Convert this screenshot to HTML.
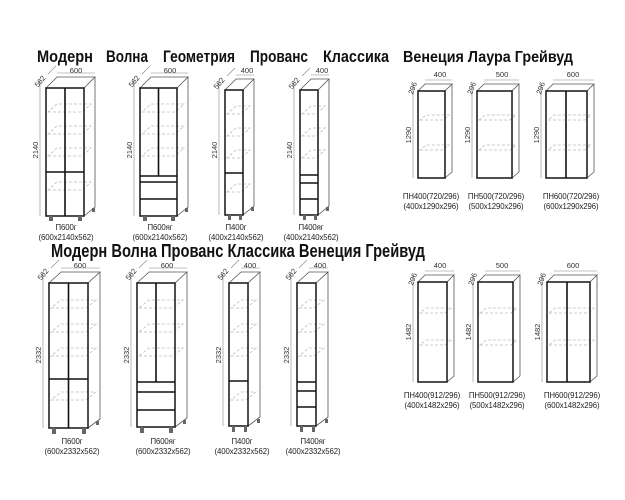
<!DOCTYPE html>
<html><head><meta charset="utf-8"><style>
html,body{margin:0;padding:0;background:#fff;}
svg{display:block;font-family:"Liberation Sans",sans-serif;}
.t{font-weight:bold;fill:#111;}
.f{fill:#fff;stroke:#222;stroke-width:1.6;}
.o{fill:none;stroke:#555;stroke-width:0.8;}
.d{fill:none;stroke:#111;stroke-width:1.6;}
.s{fill:none;stroke:#bbb;stroke-width:0.8;stroke-dasharray:3 2;}
.m{fill:none;stroke:#888;stroke-width:0.6;}
.l{font-size:7.8px;fill:#222;text-anchor:middle;letter-spacing:-0.1px;}
.n{font-size:7.5px;fill:#333;text-anchor:middle;}
.g{fill:#666;}
</style></head><body>
<svg width="625" height="500" viewBox="0 0 625 500" xmlns="http://www.w3.org/2000/svg">
<g class="t" font-size="17">
<text x="37" y="62" textLength="56" lengthAdjust="spacingAndGlyphs">Модерн</text>
<text x="106" y="62" textLength="42" lengthAdjust="spacingAndGlyphs">Волна</text>
<text x="163" y="62" textLength="72" lengthAdjust="spacingAndGlyphs">Геометрия</text>
<text x="250" y="62" textLength="58" lengthAdjust="spacingAndGlyphs">Прованс</text>
<text x="323" y="62" textLength="66" lengthAdjust="spacingAndGlyphs">Классика</text>
</g>
<text class="t" x="403" y="62" font-size="16" textLength="170" lengthAdjust="spacingAndGlyphs">Венеция Лаура Грейвуд</text>
<text class="t" x="51" y="257" font-size="18" textLength="374" lengthAdjust="spacingAndGlyphs">Модерн Волна Прованс Классика Венеция Грейвуд</text>

<g>
<path class="o" d="M46 88 l11 -11 h38 l-11 11 z M84 216 l11 -9 V77"/>
<path class="m" d="M40 78 V216 M57 73 h38 M48 74 l8 -8"/>
<path class="s" d="M48 112 h34 l9 -8 h-34z M48 134 h34 l9 -8 h-34z M48 156 h34 l9 -8 h-34z M48 190 h34 l9 -8 h-34z"/>
<rect class="f" x="46" y="88" width="38" height="128" style="fill:none"/>
<path class="d" d="M65 88 V216 M46 172 H84"/>
<rect class="g" x="49" y="216" width="4" height="5"/><rect class="g" x="78" y="216" width="4" height="5"/><rect class="g" x="92" y="208" width="3" height="4"/>
<text class="n" x="76" y="73">600</text>
<text class="n" transform="translate(38,150) rotate(-90)">2140</text>
<text class="n" transform="translate(42,83) rotate(-50)">562</text>
<text class="l" x="66" y="230">П600г</text><text class="l" x="66" y="240">(600x2140x562)</text>
</g>
<g>
<path class="o" d="M140 88 l11 -11 h37 l-11 11 z M177 216 l11 -9 V77"/>
<path class="m" d="M134 78 V216 M151 73 h37 M142 74 l8 -8"/>
<path class="s" d="M142 112 h33 l9 -8 h-33z M142 134 h33 l9 -8 h-33z M142 156 h33 l9 -8 h-33z"/>
<rect class="f" x="140" y="88" width="37" height="128" style="fill:none"/>
<path class="d" d="M158.5 88 V176 M140 176 H177 M140 182 H177 M140 199 H177"/>
<rect class="g" x="143" y="216" width="4" height="5"/><rect class="g" x="171" y="216" width="4" height="5"/><rect class="g" x="185" y="208" width="3" height="4"/>
<text class="n" x="170" y="73">600</text>
<text class="n" transform="translate(132,150) rotate(-90)">2140</text>
<text class="n" transform="translate(136,83) rotate(-50)">562</text>
<text class="l" x="160" y="230">П600яг</text><text class="l" x="160" y="240">(600x2140x562)</text>
</g>
<g>
<path class="o" d="M225 90 l11 -11 h18 l-11 11 z M243 215 l11 -9 V79"/>
<path class="m" d="M219 80 V215 M236 75 h18 M227 76 l8 -8"/>
<path class="s" d="M227 114 h14 l9 -8 h-14z M227 136 h14 l9 -8 h-14z M227 158 h14 l9 -8 h-14z M227 192 h14 l9 -8 h-14z"/>
<rect class="f" x="225" y="90" width="18" height="125" style="fill:none"/>
<path class="d" d="M225 173 H243"/>
<rect class="g" x="228" y="215" width="3" height="5"/><rect class="g" x="239" y="215" width="3" height="5"/><rect class="g" x="251" y="207" width="3" height="4"/>
<text class="n" x="247" y="73">400</text>
<text class="n" transform="translate(217,150) rotate(-90)">2140</text>
<text class="n" transform="translate(221,85) rotate(-50)">562</text>
<text class="l" x="236" y="230">П400г</text><text class="l" x="236" y="240">(400x2140x562)</text>
</g>
<g>
<path class="o" d="M300 90 l11 -11 h18 l-11 11 z M318 215 l11 -9 V79"/>
<path class="m" d="M294 80 V215 M311 75 h18 M302 76 l8 -8"/>
<path class="s" d="M302 114 h14 l9 -8 h-14z M302 136 h14 l9 -8 h-14z M302 158 h14 l9 -8 h-14z"/>
<rect class="f" x="300" y="90" width="18" height="125" style="fill:none"/>
<path class="d" d="M300 175 H318 M300 183 H318 M300 199 H318"/>
<rect class="g" x="303" y="215" width="3" height="5"/><rect class="g" x="314" y="215" width="3" height="5"/><rect class="g" x="326" y="207" width="3" height="4"/>
<text class="n" x="322" y="73">400</text>
<text class="n" transform="translate(292,150) rotate(-90)">2140</text>
<text class="n" transform="translate(296,85) rotate(-50)">562</text>
<text class="l" x="311" y="230">П400яг</text><text class="l" x="311" y="240">(400x2140x562)</text>
</g>

<g>
<path class="o" d="M418 91 l7 -7 h27 l-7 7 z M445 178 l7 -6 V84"/>
<path class="m" d="M413 85 V178 M425 80 h27"/>
<path class="s" d="M420 120 h23 l6 -5 h-23z M420 150 h23 l6 -5 h-23z"/>
<rect class="f" x="418" y="91" width="27" height="87" style="fill:none"/>
<text class="n" x="440" y="77">400</text>
<text class="n" transform="translate(411,135) rotate(-90)">1290</text>
<text class="n" transform="translate(415,89) rotate(-70)">296</text>
<text class="l" x="431" y="199">ПН400(720/296)</text><text class="l" x="431" y="209">(400x1290x296)</text>
</g>
<g>
<path class="o" d="M477 91 l7 -7 h35 l-7 7 z M512 178 l7 -6 V84"/>
<path class="m" d="M472 85 V178 M484 80 h35"/>
<path class="s" d="M479 120 h31 l6 -5 h-31z M479 150 h31 l6 -5 h-31z"/>
<rect class="f" x="477" y="91" width="35" height="87" style="fill:none"/>
<text class="n" x="502" y="77">500</text>
<text class="n" transform="translate(470,135) rotate(-90)">1290</text>
<text class="n" transform="translate(474,89) rotate(-70)">296</text>
<text class="l" x="496" y="199">ПН500(720/296)</text><text class="l" x="496" y="209">(500x1290x296)</text>
</g>
<g>
<path class="o" d="M546 91 l7 -7 h41 l-7 7 z M587 178 l7 -6 V84"/>
<path class="m" d="M541 85 V178 M553 80 h41"/>
<path class="s" d="M548 120 h37 l6 -5 h-37z M548 150 h37 l6 -5 h-37z"/>
<rect class="f" x="546" y="91" width="41" height="87" style="fill:none"/>
<path class="d" d="M566 91 V178"/>
<text class="n" x="573" y="77">600</text>
<text class="n" transform="translate(539,135) rotate(-90)">1290</text>
<text class="n" transform="translate(543,89) rotate(-70)">296</text>
<text class="l" x="571" y="199">ПН600(720/296)</text><text class="l" x="571" y="209">(600x1290x296)</text>
</g>

<g>
<path class="o" d="M49 283 l12 -11 h39 l-12 11 z M88 428 l12 -9 V272"/>
<path class="m" d="M43 272 V428 M61 268 h39 M51 268 l8 -8"/>
<path class="s" d="M51 308 h35 l10 -8 h-35z M51 332 h35 l10 -8 h-35z M51 356 h35 l10 -8 h-35z M51 400 h35 l10 -8 h-35z"/>
<rect class="f" x="49" y="283" width="39" height="145" style="fill:none"/>
<path class="d" d="M68.5 283 V428 M49 379 H88"/>
<rect class="g" x="52" y="428" width="4" height="6"/><rect class="g" x="82" y="428" width="4" height="6"/><rect class="g" x="96" y="421" width="3" height="4"/>
<text class="n" x="80" y="268">600</text>
<text class="n" transform="translate(41,355) rotate(-90)">2332</text>
<text class="n" transform="translate(45,276) rotate(-50)">562</text>
<text class="l" x="72" y="444">П600г</text><text class="l" x="72" y="454">(600x2332x562)</text>
</g>
<g>
<path class="o" d="M137 283 l12 -11 h38 l-12 11 z M175 427 l12 -9 V272"/>
<path class="m" d="M131 272 V427 M149 268 h38 M139 268 l8 -8"/>
<path class="s" d="M139 308 h34 l10 -8 h-34z M139 332 h34 l10 -8 h-34z M139 356 h34 l10 -8 h-34z"/>
<rect class="f" x="137" y="283" width="38" height="144" style="fill:none"/>
<path class="d" d="M156 283 V382 M137 382 H175 M137 392 H175 M137 410 H175"/>
<rect class="g" x="140" y="427" width="4" height="6"/><rect class="g" x="169" y="427" width="4" height="6"/><rect class="g" x="183" y="420" width="3" height="4"/>
<text class="n" x="167" y="268">600</text>
<text class="n" transform="translate(129,355) rotate(-90)">2332</text>
<text class="n" transform="translate(133,276) rotate(-50)">562</text>
<text class="l" x="163" y="444">П600яг</text><text class="l" x="163" y="454">(600x2332x562)</text>
</g>
<g>
<path class="o" d="M229 283 l12 -11 h19 l-12 11 z M248 426 l12 -9 V272"/>
<path class="m" d="M223 272 V426 M241 268 h19 M231 268 l8 -8"/>
<path class="s" d="M231 308 h15 l10 -8 h-15z M231 332 h15 l10 -8 h-15z M231 356 h15 l10 -8 h-15z M231 400 h15 l10 -8 h-15z"/>
<rect class="f" x="229" y="283" width="19" height="143" style="fill:none"/>
<path class="d" d="M229 381 H248"/>
<rect class="g" x="232" y="426" width="3" height="6"/><rect class="g" x="244" y="426" width="3" height="6"/><rect class="g" x="257" y="419" width="3" height="4"/>
<text class="n" x="250" y="268">400</text>
<text class="n" transform="translate(221,355) rotate(-90)">2332</text>
<text class="n" transform="translate(225,276) rotate(-50)">562</text>
<text class="l" x="242" y="444">П400г</text><text class="l" x="242" y="454">(400x2332x562)</text>
</g>
<g>
<path class="o" d="M297 283 l12 -11 h19 l-12 11 z M316 426 l12 -9 V272"/>
<path class="m" d="M291 272 V426 M309 268 h19 M299 268 l8 -8"/>
<path class="s" d="M299 308 h15 l10 -8 h-15z M299 332 h15 l10 -8 h-15z M299 356 h15 l10 -8 h-15z"/>
<rect class="f" x="297" y="283" width="19" height="143" style="fill:none"/>
<path class="d" d="M297 382 H316 M297 391 H316 M297 407 H316"/>
<rect class="g" x="300" y="426" width="3" height="6"/><rect class="g" x="312" y="426" width="3" height="6"/><rect class="g" x="325" y="419" width="3" height="4"/>
<text class="n" x="320" y="268">400</text>
<text class="n" transform="translate(289,355) rotate(-90)">2332</text>
<text class="n" transform="translate(293,276) rotate(-50)">562</text>
<text class="l" x="313" y="444">П400яг</text><text class="l" x="313" y="454">(400x2332x562)</text>
</g>

<g>
<path class="o" d="M418 282 l7 -7 h29 l-7 7 z M447 382 l7 -6 V275"/>
<path class="m" d="M413 276 V382 M425 271 h29"/>
<path class="s" d="M420 313 h25 l6 -5 h-25z M420 345 h25 l6 -5 h-25z"/>
<rect class="f" x="418" y="282" width="29" height="100" style="fill:none"/>
<text class="n" x="440" y="268">400</text>
<text class="n" transform="translate(411,332) rotate(-90)">1482</text>
<text class="n" transform="translate(415,280) rotate(-70)">296</text>
<text class="l" x="432" y="398">ПН400(912/296)</text><text class="l" x="432" y="408">(400x1482x296)</text>
</g>
<g>
<path class="o" d="M478 282 l7 -7 h35 l-7 7 z M513 382 l7 -6 V275"/>
<path class="m" d="M473 276 V382 M485 271 h35"/>
<path class="s" d="M480 313 h31 l6 -5 h-31z M480 345 h31 l6 -5 h-31z"/>
<rect class="f" x="478" y="282" width="35" height="100" style="fill:none"/>
<text class="n" x="502" y="268">500</text>
<text class="n" transform="translate(471,332) rotate(-90)">1482</text>
<text class="n" transform="translate(475,280) rotate(-70)">296</text>
<text class="l" x="497" y="398">ПН500(912/296)</text><text class="l" x="497" y="408">(500x1482x296)</text>
</g>
<g>
<path class="o" d="M547 282 l7 -7 h43 l-7 7 z M590 382 l7 -6 V275"/>
<path class="m" d="M542 276 V382 M554 271 h43"/>
<path class="s" d="M549 313 h39 l6 -5 h-39z M549 345 h39 l6 -5 h-39z"/>
<rect class="f" x="547" y="282" width="43" height="100" style="fill:none"/>
<path class="d" d="M567 282 V382"/>
<text class="n" x="573" y="268">600</text>
<text class="n" transform="translate(540,332) rotate(-90)">1482</text>
<text class="n" transform="translate(544,280) rotate(-70)">296</text>
<text class="l" x="572" y="398">ПН600(912/296)</text><text class="l" x="572" y="408">(600x1482x296)</text>
</g>
</svg>
</body></html>
